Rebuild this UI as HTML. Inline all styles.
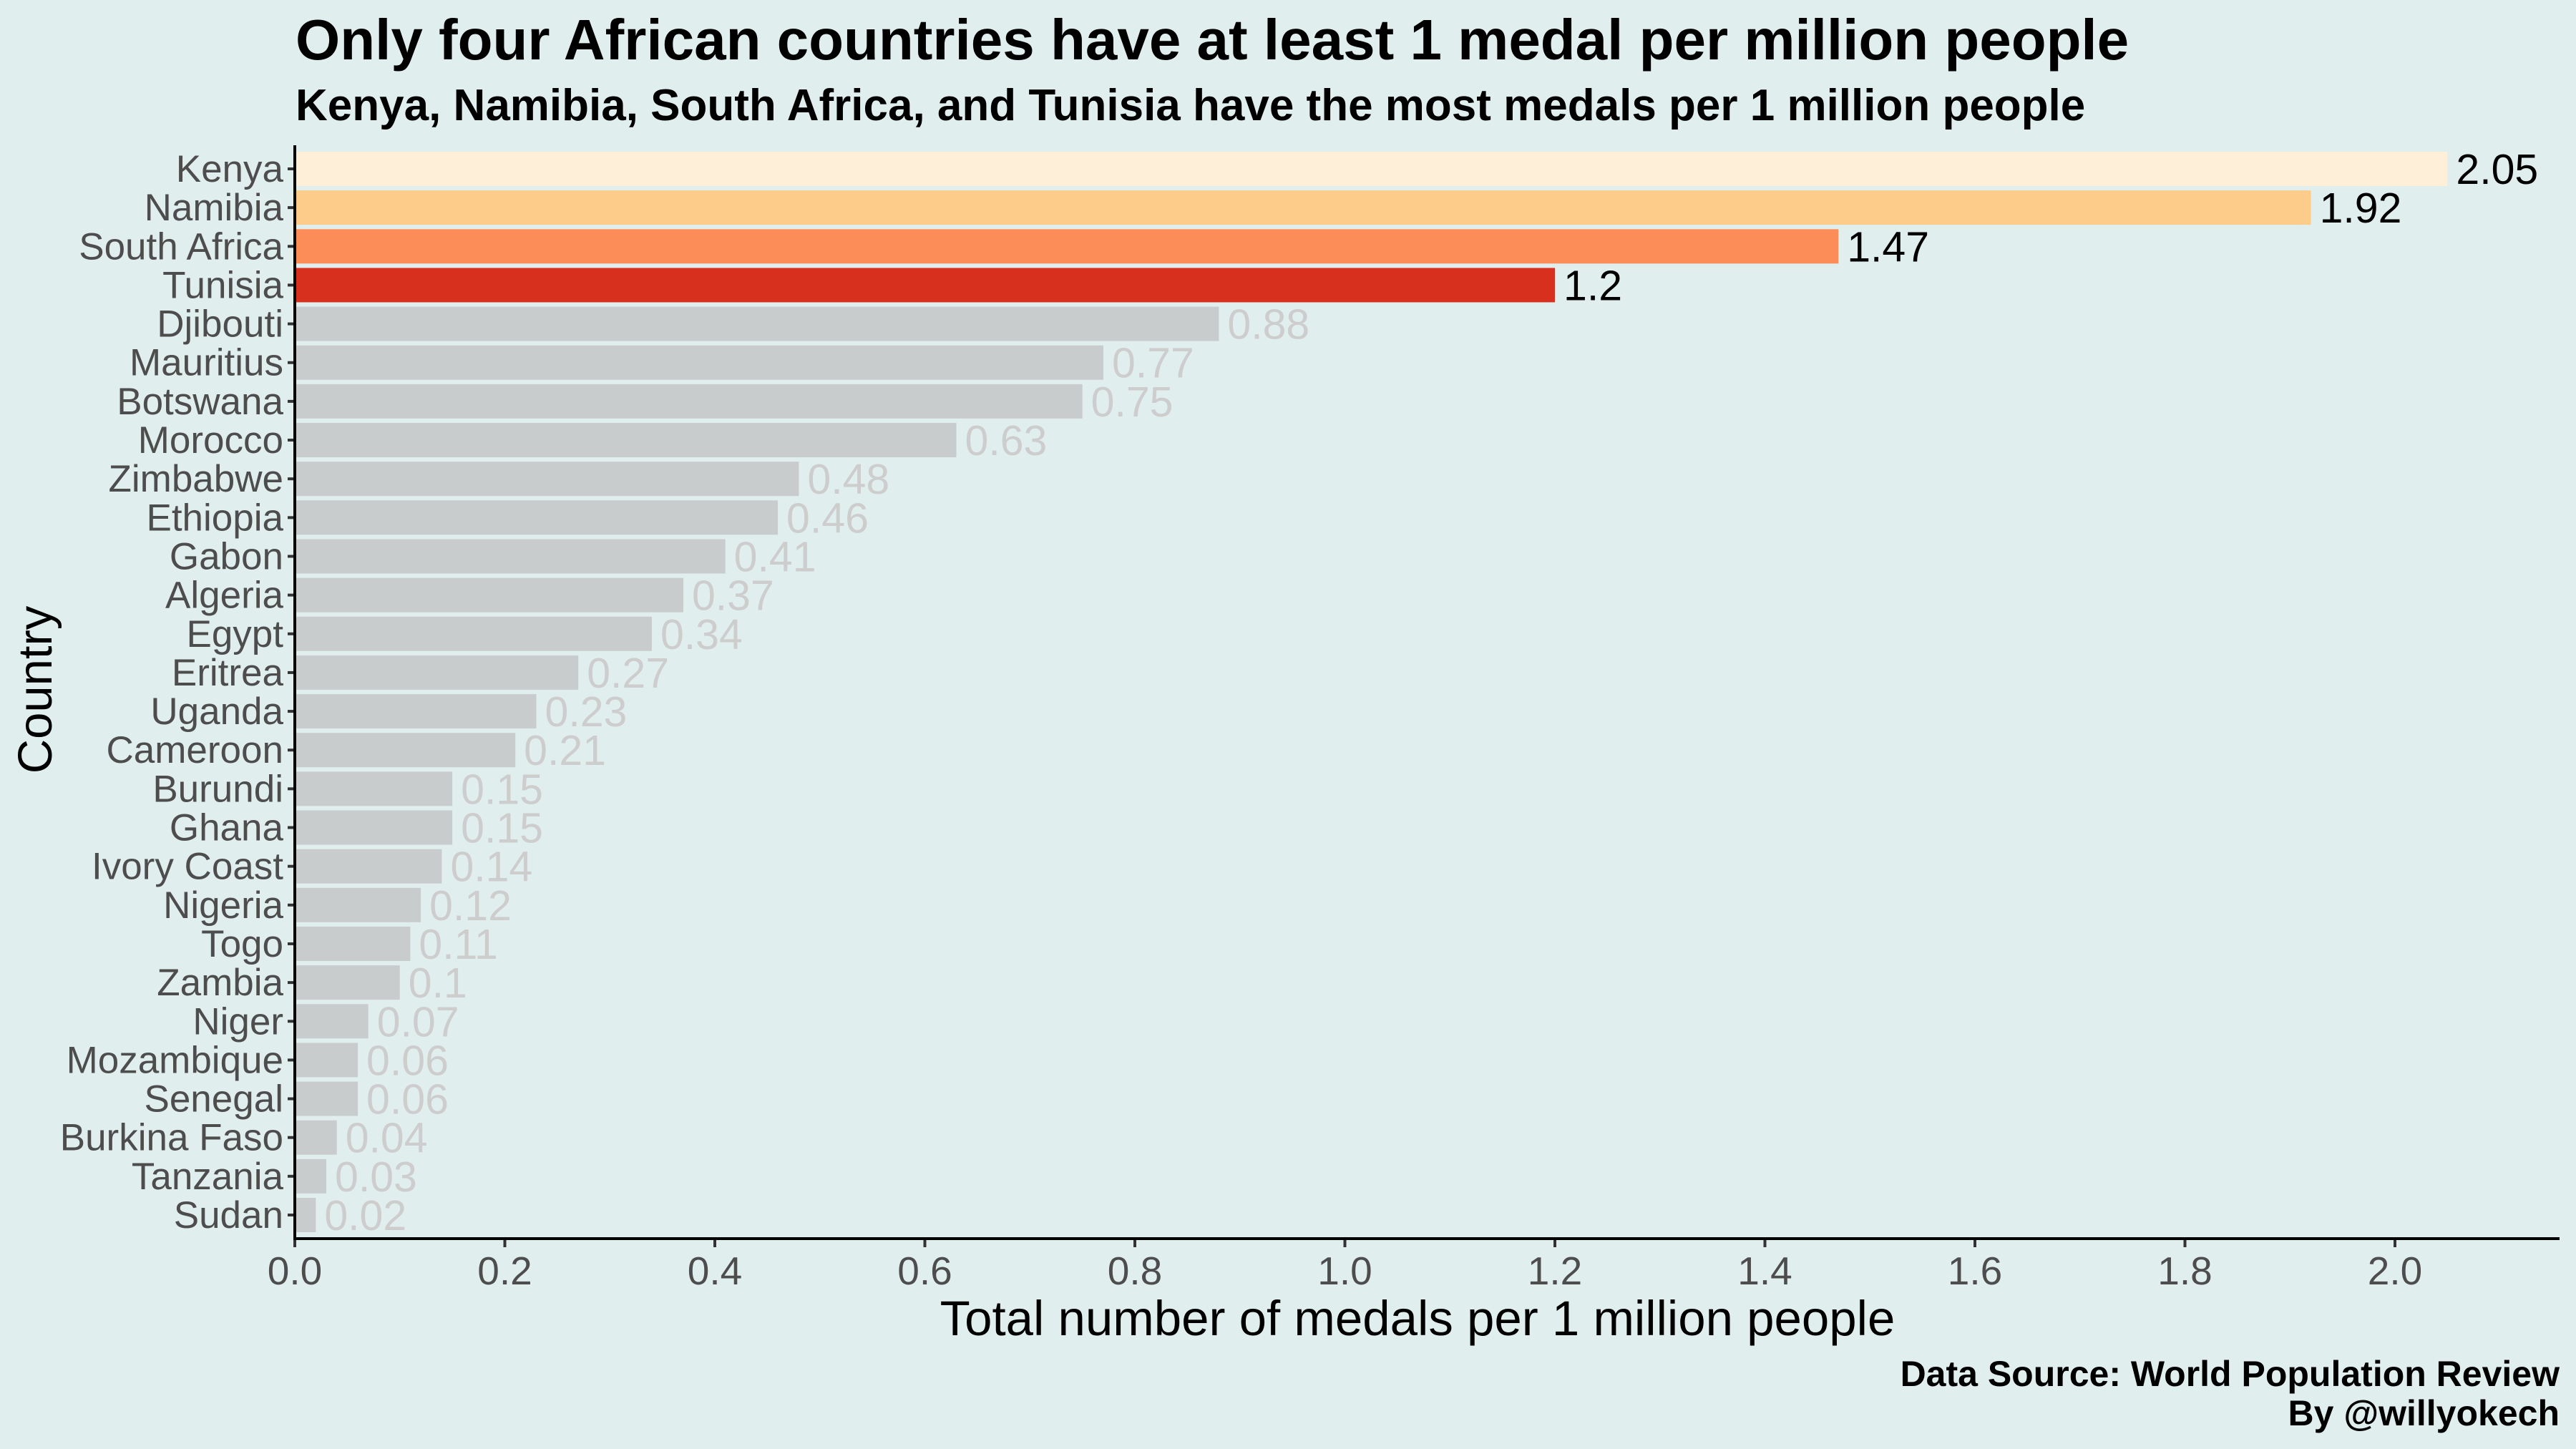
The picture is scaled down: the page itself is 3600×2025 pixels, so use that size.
<!DOCTYPE html>
<html><head><meta charset="utf-8">
<style>
html,body{margin:0;padding:0;background:#e0eeed;}
svg{display:block;font-family:"Liberation Sans",sans-serif;}
</style></head>
<body>
<svg id="chart" width="3600" height="2025" viewBox="0 0 3600 2025" xmlns="http://www.w3.org/2000/svg">
<rect width="3600" height="2025" fill="#e0eeed"/>
<text x="413" y="83" font-size="80" font-weight="bold" fill="#000">Only four African countries have at least 1 medal per million people</text>
<text x="413" y="168" font-size="62" font-weight="bold" fill="#000">Kenya, Namibia, South Africa, and Tunisia have the most medals per 1 million people</text>
<g id="bars"></g>
<g id="yaxis"></g>
<g id="xaxis"></g>
<line x1="412" y1="203" x2="412" y2="1733" stroke="#000" stroke-width="4"/>
<line x1="410" y1="1731" x2="3577" y2="1731" stroke="#000" stroke-width="4"/>
<text x="1981" y="1866" font-size="69" text-anchor="middle" fill="#000">Total number of medals per 1 million people</text>
<text transform="translate(72,964) rotate(-90)" font-size="67" text-anchor="middle" fill="#000">Country</text>
<text x="3577" y="1937" font-size="50" font-weight="bold" text-anchor="end" fill="#000">Data Source: World Population Review</text>
<text x="3577" y="1992" font-size="50" font-weight="bold" text-anchor="end" fill="#000">By @willyokech</text>
</svg>
<script>
const countries = ["Kenya","Namibia","South Africa","Tunisia","Djibouti","Mauritius","Botswana","Morocco","Zimbabwe","Ethiopia","Gabon","Algeria","Egypt","Eritrea","Uganda","Cameroon","Burundi","Ghana","Ivory Coast","Nigeria","Togo","Zambia","Niger","Mozambique","Senegal","Burkina Faso","Tanzania","Sudan"];
const values = [2.05,1.92,1.47,1.2,0.88,0.77,0.75,0.63,0.48,0.46,0.41,0.37,0.34,0.27,0.23,0.21,0.15,0.15,0.14,0.12,0.11,0.1,0.07,0.06,0.06,0.04,0.03,0.02];
const labels = ["2.05","1.92","1.47","1.2","0.88","0.77","0.75","0.63","0.48","0.46","0.41","0.37","0.34","0.27","0.23","0.21","0.15","0.15","0.14","0.12","0.11","0.1","0.07","0.06","0.06","0.04","0.03","0.02"];
const xTicks = [0,0.2,0.4,0.6,0.8,1.0,1.2,1.4,1.6,1.8,2.0];
const xTickLabels = ["0.0","0.2","0.4","0.6","0.8","1.0","1.2","1.4","1.6","1.8","2.0"];
const highlightColors = ["#feefd9","#fdcc8a","#fc8d59","#d7301f"];

const NS="http://www.w3.org/2000/svg";
const x0=412, pxPerUnit=1467.5;
const xScale=v=>x0+v*pxPerUnit;
const yTop=236, yBottom=1698;
const yScale=i=>yTop+i*(yBottom-yTop)/(countries.length-1);
const bw=48;
const bars=document.getElementById('bars'), ya=document.getElementById('yaxis'), xa=document.getElementById('xaxis');
function mk(tag,attrs){const e=document.createElementNS(NS,tag);for(const k in attrs)e.setAttribute(k,attrs[k]);return e;}
countries.forEach((c,i)=>{
  const y=yScale(i);
  const r=mk('rect',{x:x0,y:y-bw/2,width:xScale(values[i])-x0,height:bw,fill:i<4?highlightColors[i]:'#c9cccc'});
  
  
  bars.appendChild(r);
  const t=mk('text',{x:xScale(values[i])+12,y:y+21,'font-size':59,fill:i<4?'#000':'#cdcdcd'});
  t.textContent=labels[i];
  
  
  bars.appendChild(t);
  const tk=mk('line',{x1:x0-10,y1:y,x2:x0,y2:y,stroke:'#333','stroke-width':4});
  
  
  ya.appendChild(tk);
  const l=mk('text',{x:x0-16,y:y+18,'font-size':53,fill:'#4d4d4d','text-anchor':'end'});
  l.textContent=c;
  
  
  ya.appendChild(l);
});
xTicks.forEach((v,i)=>{
  const x=xScale(v);
  const tk=mk('line',{x1:x,y1:1731,x2:x,y2:1743,stroke:'#333','stroke-width':4});
  
  
  xa.appendChild(tk);
  const l=mk('text',{x:x,y:1795,'font-size':55,fill:'#4d4d4d','text-anchor':'middle'});
  l.textContent=xTickLabels[i];
  
  
  xa.appendChild(l);
});
</script>
</body></html>
